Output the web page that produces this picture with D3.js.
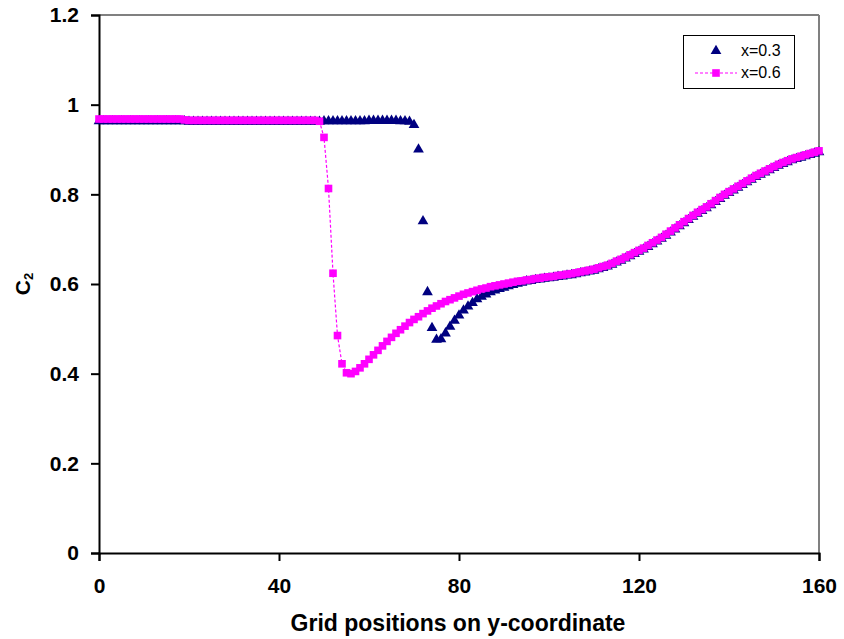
<!DOCTYPE html>
<html>
<head>
<meta charset="utf-8">
<script src="https://cdn.jsdelivr.net/npm/d3@7"></script>
<style>
  body { margin: 0; background: #fff; }
  svg text { font-family: "Liberation Sans", Arial, sans-serif; }
</style>
</head>
<body>
<svg id="chart" width="844" height="639"></svg>
<script>
// grid positions 0..160
var gridPos = d3.range(0, 161);

// series x=0.3 (navy triangles)
var c2_x03 = [
  0.963,0.963,0.963,0.963,0.963,0.963,0.963,0.963,0.963,0.963,
  0.963,0.963,0.963,0.963,0.963,0.963,0.963,0.963,0.963,0.963,
  0.962,0.962,0.962,0.962,0.962,0.962,0.962,0.962,0.962,0.962,
  0.962,0.962,0.962,0.962,0.962,0.962,0.962,0.962,0.962,0.962,
  0.962,0.962,0.962,0.962,0.962,0.962,0.962,0.962,0.962,0.962,
  0.963,0.963,0.963,0.963,0.963,0.963,0.963,0.963,0.963,0.963,
  0.964,0.964,0.964,0.964,0.964,0.964,0.964,0.963,0.963,0.962,
  0.955,0.900,0.740,0.582,0.502,0.476,0.477,0.490,0.505,0.518,
  0.530,0.541,0.550,0.558,0.566,0.572,0.577,0.582,0.586,0.589,
  0.592,0.595,0.598,0.601,0.603,0.606,0.607,0.609,0.610,0.612,
  0.613,0.614,0.616,0.617,0.619,0.620,0.622,0.624,0.626,0.628,
  0.630,0.633,0.636,0.639,0.643,0.648,0.652,0.657,0.662,0.667,
  0.672,0.677,0.683,0.689,0.695,0.701,0.708,0.715,0.722,0.729,
  0.736,0.743,0.750,0.757,0.763,0.769,0.776,0.783,0.790,0.797,
  0.803,0.809,0.815,0.821,0.827,0.833,0.839,0.844,0.849,0.854,
  0.859,0.864,0.868,0.872,0.876,0.879,0.882,0.885,0.888,0.891,
  0.894
];

// series x=0.6 (magenta squares, dashed line)
var c2_x06 = [
  0.968,0.968,0.968,0.968,0.968,0.968,0.968,0.968,0.968,0.968,
  0.968,0.968,0.968,0.968,0.968,0.968,0.968,0.968,0.968,0.966,
  0.965,0.965,0.965,0.965,0.965,0.965,0.965,0.965,0.965,0.965,
  0.965,0.965,0.965,0.965,0.965,0.965,0.965,0.965,0.965,0.965,
  0.965,0.965,0.965,0.965,0.965,0.965,0.965,0.965,0.965,0.963,
  0.927,0.813,0.624,0.485,0.422,0.402,0.400,0.405,0.413,0.422,
  0.432,0.442,0.452,0.462,0.472,0.481,0.490,0.498,0.506,0.514,
  0.521,0.527,0.534,0.540,0.546,0.551,0.556,0.561,0.565,0.569,
  0.573,0.577,0.580,0.583,0.586,0.589,0.591,0.594,0.596,0.598,
  0.600,0.602,0.604,0.606,0.607,0.609,0.610,0.612,0.613,0.615,
  0.616,0.617,0.619,0.620,0.622,0.623,0.625,0.627,0.629,0.631,
  0.633,0.636,0.639,0.642,0.646,0.651,0.655,0.660,0.665,0.670,
  0.675,0.680,0.686,0.692,0.698,0.704,0.711,0.718,0.725,0.732,
  0.739,0.746,0.753,0.760,0.766,0.772,0.779,0.786,0.793,0.800,
  0.806,0.812,0.818,0.824,0.830,0.836,0.842,0.847,0.852,0.857,
  0.862,0.867,0.871,0.875,0.879,0.882,0.885,0.888,0.891,0.894,
  0.897
];

var xTicks = [0, 40, 80, 120, 160];
var yTicks = [0, 0.2, 0.4, 0.6, 0.8, 1, 1.2];
var legendLabels = ["x=0.3", "x=0.6"];

var margin = {left: 99, top: 15, right: 25, bottom: 86};
var w = 844 - margin.left - margin.right;   // 720
var h = 639 - margin.top - margin.bottom;   // 538

var svg = d3.select("#chart");
var g = svg.append("g").attr("transform", "translate(" + margin.left + "," + margin.top + ")");

var x = d3.scaleLinear().domain([0, 160]).range([0, w]);
var y = d3.scaleLinear().domain([0, 1.2]).range([h, 0]);

// grey frame top + right
g.append("line").attr("x1", 0).attr("x2", w).attr("y1", 0).attr("y2", 0)
  .attr("stroke", "#808080").attr("stroke-width", 2);
g.append("line").attr("x1", w).attr("x2", w).attr("y1", 0).attr("y2", h)
  .attr("stroke", "#808080").attr("stroke-width", 2);

// minor ticks
var xMinor = d3.range(0, 161, 8);
var yMinor = d3.range(0, 1.2001, 0.04);

var xAxis = g.append("g").attr("transform", "translate(0," + h + ")");
xAxis.call(d3.axisBottom(x).tickValues(xMinor).tickSize(6).tickFormat(""));
xAxis.call(d3.axisBottom(x).tickValues(xTicks).tickSize(8).tickPadding(17).tickFormat(d3.format("d")));
xAxis.selectAll("path").attr("stroke", "#000").attr("stroke-width", 2);
xAxis.selectAll("line").attr("stroke", "#000").attr("stroke-width", 2);
xAxis.selectAll("text").attr("font-size", 21).attr("font-weight", "bold").attr("fill", "#000")
  .style("font-family", "'Liberation Sans', Arial, sans-serif");

var yAxis = g.append("g");
yAxis.call(d3.axisLeft(y).tickValues(yMinor).tickSize(5).tickFormat(""));
yAxis.call(d3.axisLeft(y).tickValues(yTicks).tickSize(8).tickPadding(12).tickFormat(function(d){ return d3.format("")(+d.toFixed(1)); }));
yAxis.selectAll("path").attr("stroke", "#000").attr("stroke-width", 2);
yAxis.selectAll("line").attr("stroke", "#000").attr("stroke-width", 2);
yAxis.selectAll("text").attr("font-size", 21).attr("font-weight", "bold").attr("fill", "#000")
  .style("font-family", "'Liberation Sans', Arial, sans-serif");

// axis titles
svg.append("text")
  .attr("x", margin.left + w / 2 - 1).attr("y", 631)
  .attr("text-anchor", "middle").attr("font-size", 23).attr("font-weight", "bold")
  .text("Grid positions on y-coordinate");

var ylab = svg.append("text")
  .attr("transform", "translate(30,284) rotate(-90)")
  .attr("text-anchor", "middle").attr("font-size", 21).attr("font-weight", "bold");
ylab.append("tspan").text("C");
ylab.append("tspan").attr("font-size", 13).attr("dy", 3).text("2");

var tri = d3.symbol().type(d3.symbolTriangle).size(50);
var sq = d3.symbol().type(d3.symbolSquare).size(58);

// series x=0.3
g.append("g").selectAll("path")
  .data(gridPos)
  .enter()
  .append("path")
  .attr("d", tri)
  .attr("transform", function(d){ return "translate(" + x(d) + "," + y(c2_x03[d]) + ")"; })
  .attr("fill", "#000080");

// series x=0.6
var line = d3.line()
  .x(function(d){ return x(d); })
  .y(function(d){ return y(c2_x06[d]); });

g.append("path")
  .datum(gridPos)
  .attr("d", line)
  .attr("fill", "none")
  .attr("stroke", "#ff00ff")
  .attr("stroke-width", 1.2)
  .attr("stroke-dasharray", "3,2");

g.append("g").selectAll("path")
  .data(gridPos)
  .enter()
  .append("path")
  .attr("d", sq)
  .attr("transform", function(d){ return "translate(" + x(d) + "," + y(c2_x06[d]) + ")"; })
  .attr("fill", "#ff00ff");

// legend
var lg = svg.append("g");
lg.append("rect").attr("x", 683.5).attr("y", 35.5).attr("width", 111).attr("height", 53)
  .attr("fill", "#fff").attr("stroke", "#000").attr("stroke-width", 1);

lg.append("path").attr("d", tri).attr("transform", "translate(716,51)").attr("fill", "#000080");
lg.append("line").attr("x1", 695).attr("x2", 737).attr("y1", 73).attr("y2", 73)
  .attr("stroke", "#ff00ff").attr("stroke-width", 1.2).attr("stroke-dasharray", "3,2");
lg.append("path").attr("d", sq).attr("transform", "translate(716,73)").attr("fill", "#ff00ff");

lg.selectAll("text.leg")
  .data(legendLabels)
  .enter()
  .append("text")
  .attr("class", "leg")
  .attr("x", 741)
  .attr("y", function(d, i){ return 56 + i * 22; })
  .attr("font-size", 16)
  .attr("fill", "#000")
  .text(function(d){ return d; });
</script>
</body>
</html>
